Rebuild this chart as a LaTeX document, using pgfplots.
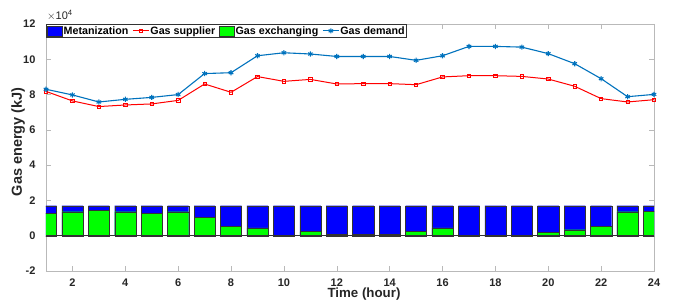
\documentclass[border=0pt]{standalone}
\usepackage{fontspec}
\setmainfont{Liberation Sans}
\usepackage{pgfplots}
\usepackage{pgfplotstable}
\pgfplotsset{compat=1.18}
\definecolor{mblue}{RGB}{0,0,255}
\definecolor{mgreen}{RGB}{0,255,0}
\definecolor{dblue}{RGB}{0,114,189}
\definecolor{mred}{RGB}{255,0,0}
\definecolor{axgray}{RGB}{185,185,185}
\newcommand{\lf}{\fontsize{10.7}{12}\selectfont\bfseries}
\pgfplotsset{
  patchleg/.style={legend image code/.code={\draw[##1] (0pt,-5pt) rectangle (15pt,5pt);}},
  lineleg/.style={legend image code/.code={\draw[mark repeat=2, mark phase=2, ##1] plot coordinates {(0pt,0pt) (8pt,0pt) (16pt,0pt)};}},
}

\pgfplotstableread{
x  green metan demand supplier
1  1.28  1.70  8.30  8.18
2  1.36  1.70  7.98  7.64
3  1.42  1.70  7.58  7.32
4  1.36  1.70  7.73  7.41
5  1.28  1.70  7.84  7.47
6  1.36  1.70  8.00  7.67
7  1.05  1.70  9.19  8.60
8  0.53  1.70  9.24  8.13
9  0.44  1.70  10.20 9.02
10 0.00  1.70  10.37 8.75
11 0.23  1.70  10.30 8.86
12 0.09  1.70  10.16 8.60
13 0.09  1.70  10.16 8.62
14 0.09  1.70  10.16 8.62
15 0.25  1.70  9.94  8.56
16 0.44  1.70  10.20 9.00
17 0.00  1.70  10.73 9.07
18 0.00  1.70  10.73 9.07
19 0.00  1.70  10.69 9.03
20 0.21  1.70  10.32 8.88
21 0.34  1.70  9.75  8.47
22 0.53  1.70  8.90  7.77
23 1.36  1.70  7.88  7.58
24 1.40  1.70  8.01  7.71
}\data

\begin{document}
\begin{tikzpicture}
\path[use as bounding box] (-46pt,-29pt) rectangle (631pt,271pt);
\begin{axis}[
  at={(0pt,0pt)}, anchor=south west,
  scale only axis, width=608pt, height=247pt,
  xmin=1, xmax=24, ymin=-2, ymax=12,
  xtick={2,4,...,24}, ytick={-2,0,...,12},
  tick align=inside, major tick length=5pt,
  axis line style={axgray}, tick style={axgray, line width=0.5pt},
  clip mode=individual,
  /pgf/number format/assume math mode=true,
  ticklabel style={font=\fontsize{11}{13}\selectfont\bfseries, text=black!85},
  yticklabel style={xshift=-7pt},
  xticklabel style={inner sep=0pt, yshift=-7.7pt},
  xlabel={Time (hour)}, ylabel={Gas energy (kJ)},
  xlabel style={font=\fontsize{13.3}{15}\selectfont\bfseries, text=black!85,
    at={(axis description cs:0.523,0)}, anchor=north, yshift=-17pt, inner sep=0pt},
  ylabel style={font=\fontsize{14.5}{16}\selectfont\bfseries, text=black!85,
    at={(axis description cs:-0.0345,0.523)}, anchor=south, inner sep=0pt},
  legend columns=4,
  legend style={at={(axis description cs:0,1)}, anchor=north west, yshift=0pt,
    draw=black!80, line width=0.5pt, fill=white, inner sep=1pt,
    font=\lf,
    /tikz/every even column/.append style={column sep=3pt},
    nodes={inner sep=1pt, font=\lf}},
  legend cell align=left,
]
% bars: full metanization bar, green exchanging over its lower part
\addplot[ybar, bar width=0.8, bar shift=0pt, fill=mblue, draw=black!80, line width=0.4pt, forget plot]
  table[x=x, y=metan] {\data};
\addplot[ybar, bar width=0.8, bar shift=0pt, fill=mgreen, draw=black!80, line width=0.4pt, forget plot]
  table[x=x, y=green] {\data};
\addplot[black!80, line width=0.5pt, forget plot] coordinates {(1,0) (24,0)};
% lines
\addplot[mred, line width=1pt, mark=square, mark size=1.7pt, mark options={solid, line width=0.7pt}, forget plot]
  table[x=x, y=supplier] {\data};
\addplot[dblue, line width=1.1pt, mark=asterisk, mark size=2.6pt, mark options={solid, line width=1.1pt}, forget plot]
  table[x=x, y=demand] {\data};
% legend
\addlegendimage{patchleg, fill=mblue, draw=black!80, line width=0.4pt}
\addlegendentry{\lf Metanization}
\addlegendimage{lineleg, mred, line width=1pt, mark=square, mark size=1.7pt, mark options={solid, line width=0.7pt}}
\addlegendentry{\lf Gas supplier}
\addlegendimage{patchleg, fill=mgreen, draw=black!80, line width=0.4pt}
\addlegendentry{\lf Gas exchanging}
\addlegendimage{lineleg, dblue, line width=1.1pt, mark=asterisk, mark size=2.6pt, mark options={solid, line width=1.1pt}}
\addlegendentry{\lf Gas demand}
\node[anchor=south west, inner sep=0pt, font=\fontsize{11}{12}\selectfont, text=black!85]
  at (rel axis cs:0,1) [xshift=1pt, yshift=3pt] {$\times$10\textsuperscript{4}};
\end{axis}
\end{tikzpicture}
\end{document}
